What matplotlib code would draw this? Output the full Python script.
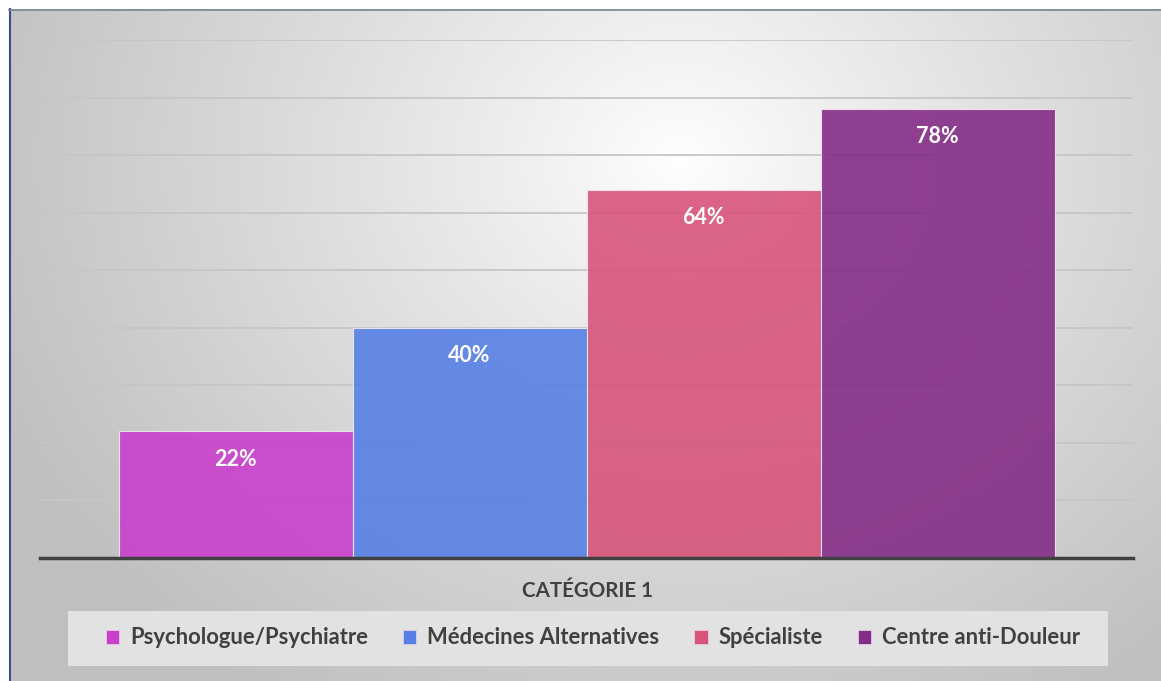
import matplotlib.pyplot as plt
import numpy as np
from matplotlib.patches import Rectangle

plt.rcParams["font.family"] = ["Lato", "DejaVu Sans"]

category = "CATÉGORIE 1"
series = ["Psychologue/Psychiatre", "Médecines Alternatives", "Spécialiste", "Centre anti-Douleur"]
values = [22, 40, 64, 78]
labels = ["22%", "40%", "64%", "78%"]
colors = ["#C93FCC", "#5680E6", "#D8547A", "#842D86"]

W, H = 1161, 681
fig = plt.figure(figsize=(W / 100, H / 100), dpi=100)

# background: radial gray gradient inside a frame
bg = fig.add_axes([0, 0, 1, 1])
yy, xx = np.mgrid[0:H, 0:W]
r = np.sqrt(((xx - 680) / 650.0) ** 2 + ((yy - 160) / 560.0) ** 2)
shade = 1.0 - 0.22 * np.clip(r, 0, 1.15) ** 0.9
img = np.dstack([shade] * 3)
img[:9, :] = 1.0
img[:, :9] = 1.0
bg.imshow(img, extent=[0, W, H, 0], aspect="auto", interpolation="bilinear")
bg.plot([9.5, 9.5], [9, H], color="#3C4E7A", lw=1.5)
bg.plot([9, W], [9.5, 9.5], color="#7A8499", lw=1.2)
# legend box
bg.add_patch(Rectangle((68, 611), 1040, 55, facecolor="#E2E2E2", edgecolor="none"))
bg.set_xlim(0, W)
bg.set_ylim(H, 0)
bg.axis("off")

ax = fig.add_axes([40 / W, 1 - 558 / H, 1093 / W, (558 - 40) / H])
ax.patch.set_alpha(0)
w = 234 / 1093
for i, (v, c, lab) in enumerate(zip(values, colors, labels)):
    x = -2 * w + i * w + w / 2
    ax.bar(x, v, width=w, color=c, alpha=0.9, edgecolor="#F0E8F0", linewidth=0.8, zorder=3)
    ax.text(x, v - 4.8, lab, ha="center", va="center", color="white",
            fontsize=15.5, fontweight="bold", zorder=4)

ax.set_xlim(-0.5, 0.5)
ax.set_ylim(0, 90)
ax.set_yticks(np.arange(10, 91, 10))
ax.yaxis.grid(True, color="#C6C6C6", lw=1.3, zorder=0)
ax.tick_params(left=False, bottom=False, labelleft=False, labelbottom=False)
for s in ["top", "right", "left"]:
    ax.spines[s].set_visible(False)
ax.spines["bottom"].set_color("#404040")
ax.spines["bottom"].set_linewidth(2.5)
ax.spines["bottom"].set_zorder(5)

fig.text(587 / W, 1 - 591 / H, category, ha="center", va="center",
         fontsize=14.8, fontweight="bold", color="#404040")

# legend entries
handles = [Rectangle((0, 0), 1, 1, facecolor=c, edgecolor="#E8C8E8", lw=0.6) for c in colors]
leg = fig.legend(handles, series, loc="center", bbox_to_anchor=(593 / W, 1 - 638 / H),
                 ncol=4, frameon=False, handlelength=0.6, handleheight=0.6,
                 handletextpad=0.5, columnspacing=1.6,
                 prop={"weight": "bold", "size": 15.8})
for t in leg.get_texts():
    t.set_color("#404040")

fig.savefig("out.png", dpi=100)
